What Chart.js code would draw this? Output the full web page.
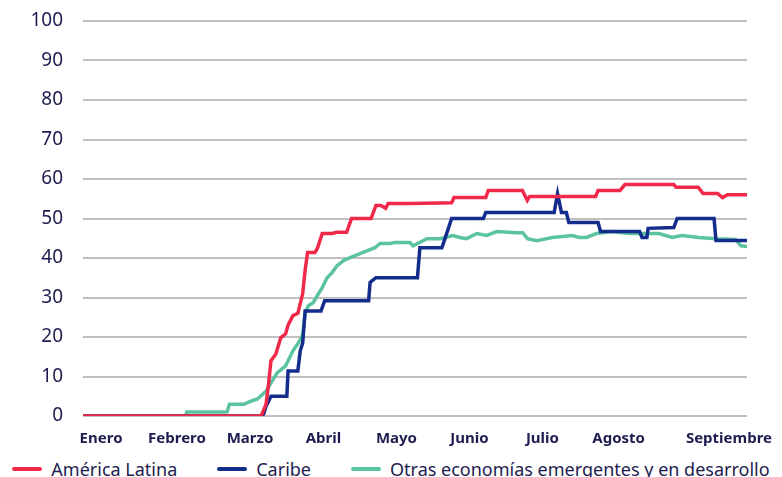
<!DOCTYPE html>
<html>
<head>
<meta charset="utf-8">
<script src="https://cdn.jsdelivr.net/npm/chart.js@4"></script>
<style>
  body { margin: 0; background: #fff; }
  #wrap { position: relative; width: 782px; height: 477px; overflow: hidden; }
  #chart { display: block; }
  #legend {
    position: absolute; left: 0; top: 455px; width: 782px; height: 28px;
    display: flex; justify-content: center; align-items: center;
    font-family: "Noto Sans", sans-serif; font-size: 18px; color: #1d1d50;
    white-space: nowrap;
  }
  .item { display: flex; align-items: center; margin: 0 20px; }
  .swatch { width: 30px; height: 4px; border-radius: 2px; margin-right: 9px; }
</style>
</head>
<body>
<div id="wrap">
  <canvas id="chart" width="782" height="450"></canvas>
  <div id="legend"></div>
</div>
<script>
// days since 1 January, month label positions
const monthLabels = ['Enero', 'Febrero', 'Marzo', 'Abril', 'Mayo', 'Junio', 'Julio', 'Agosto', 'Septiembre'];
const monthLabelDays = [7.4, 38.5, 68.4, 98.5, 128.4, 158.3, 188.2, 219.4, 264.6];

// [day, index value]
const latamSeries = [
    [0, 0], [73, 0], [75, 3], [76, 8], [77, 14], [79, 15.7], [81, 19.8], [83, 20.8], [84, 23],
    [86, 25.4], [88, 26], [90, 31], [91, 37], [92, 41.4], [95, 41.4], [96, 42.4], [98, 46.2],
    [102, 46.2], [104, 46.5], [108, 46.5], [110, 50], [118, 50], [120, 53.3], [122, 53.3],
    [124, 52.6], [125, 53.8], [134, 53.8], [151, 54], [152, 55.3], [165, 55.3], [166, 57.1],
    [180, 57.1], [182, 54.6], [183, 55.6], [210, 55.6], [211, 57.1], [220, 57.1], [222, 58.6],
    [242, 58.6], [243, 57.9], [252, 57.9], [254, 56.3], [260, 56.3], [262, 55.3], [264, 56], [272, 56]
];
const caribeSeries = [
    [0, 0], [73, 0], [74, 0.5], [75, 2.5], [77, 5], [83.5, 5], [84, 11.4], [88, 11.4], [89, 16.5],
    [90, 18.5], [91, 26.6], [97.5, 26.6], [99, 29.2], [117, 29.2], [117.6, 33.8], [120, 35],
    [137, 35], [138, 42.6], [147, 42.6], [148, 44.4], [151, 50], [164, 50], [165, 51.5],
    [193, 51.5], [194.4, 56.3], [196, 51.5], [198, 51.5], [199, 49], [211, 49], [212, 46.7],
    [228, 46.7], [229, 45.2], [231, 45.2], [231.5, 47.5], [242, 47.7], [243.4, 50], [258.5, 50],
    [259.3, 44.4], [272, 44.4]
];
const otrasSeries = [
    [0, 0], [42, 0], [42.5, 1], [59, 1], [60, 3], [66, 3], [69, 3.8], [71.5, 4.3], [75, 6.3],
    [77, 8.4], [79.6, 11], [83, 12.7], [86, 16.5], [88, 18.3], [89.5, 19.8], [90, 20.8], [91, 26],
    [92.3, 27.9], [94.3, 28.7], [96, 30.5], [98, 32.5], [100, 35], [102, 36.3], [104, 38],
    [106.6, 39.3], [109.4, 40.1], [113.5, 41.1], [116.8, 41.9], [119.6, 42.6], [121.7, 43.7],
    [125.8, 43.7], [127.8, 43.9], [133.9, 43.9], [135.2, 43.1], [140.9, 44.9], [146.2, 44.9],
    [151.5, 45.7], [154.3, 45.2], [157.2, 44.9], [161.3, 46.2], [165.4, 45.7], [169.5, 46.7],
    [177.6, 46.4], [180.1, 46.4], [182.1, 44.9], [185.8, 44.4], [192.3, 45.2], [200.5, 45.7],
    [203.3, 45.2], [206.2, 45.2], [210.3, 46.2], [216.8, 46.7], [223.8, 46.2], [236, 46.2],
    [241.3, 45.2], [245.4, 45.7], [252.3, 45.2], [259.3, 44.9], [267.4, 44.7], [269.5, 43.1], [272, 42.9]
];

const seriesNames = ['América Latina', 'Caribe', 'Otras economías emergentes y en desarrollo'];
const seriesColors = ['#f0294a', '#142c8c', '#5cc3a0'];

const textColor = '#1d1d50';
const toPoints = arr => arr.map(p => ({ x: p[0], y: p[1] }));

const datasets = [latamSeries, caribeSeries, otrasSeries].map((s, i) => ({
    label: seriesNames[i],
    data: toPoints(s),
    borderColor: seriesColors[i],
    backgroundColor: seriesColors[i],
    borderWidth: 3.5,
    pointRadius: 0,
    tension: 0,
    fill: false,
    order: i + 1
}));

new Chart(document.getElementById('chart').getContext('2d'), {
    type: 'line',
    data: { datasets: datasets },
    options: {
        responsive: false,
        animation: false,
        devicePixelRatio: 1,
        layout: { autoPadding: false, padding: { left: 0, right: 35, top: 21, bottom: 0 } },
        plugins: { legend: { display: false }, tooltip: { enabled: false } },
        scales: {
            x: {
                type: 'linear',
                min: 0,
                max: 272,
                afterFit: scale => { scale.height = 34; },
                afterBuildTicks: scale => {
                    scale.ticks = monthLabelDays.map(v => ({ value: v }));
                },
                ticks: {
                    autoSkip: false,
                    maxRotation: 0,
                    padding: 6,
                    color: textColor,
                    font: { family: 'Noto Sans', size: 15, weight: 'bold' },
                    callback: (value) => monthLabels[monthLabelDays.indexOf(value)]
                },
                grid: { display: false },
                border: { display: false }
            },
            y: {
                min: 0,
                max: 100,
                afterFit: scale => {
                    scale.width = 83;
                    scale.paddingTop = 0;
                    scale.paddingBottom = 0;
                },
                ticks: {
                    stepSize: 10,
                    padding: 20,
                    color: textColor,
                    font: { family: 'Noto Sans', size: 19 }
                },
                grid: { color: '#c0c0c0', lineWidth: 2, drawTicks: false },
                border: { display: false }
            }
        }
    }
});

const legend = document.getElementById('legend');
seriesNames.forEach((name, i) => {
    const item = document.createElement('div');
    item.className = 'item';
    const sw = document.createElement('span');
    sw.className = 'swatch';
    sw.style.background = seriesColors[i];
    const txt = document.createElement('span');
    txt.textContent = name;
    item.appendChild(sw);
    item.appendChild(txt);
    legend.appendChild(item);
});
</script>
</body>
</html>
